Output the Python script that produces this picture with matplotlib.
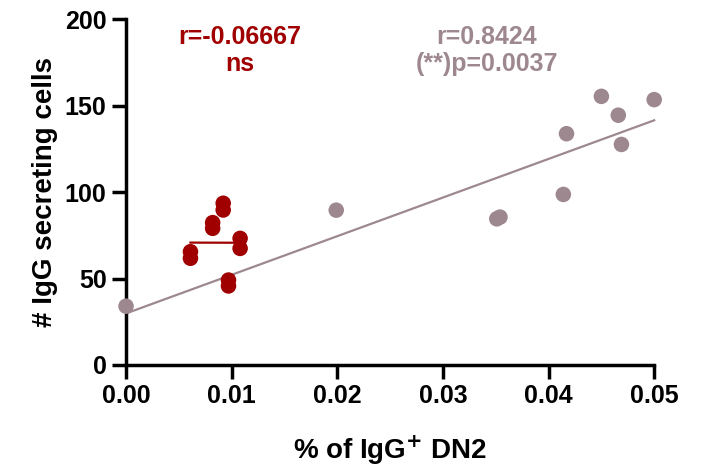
import numpy as np
import matplotlib
matplotlib.use("Agg")
import matplotlib.pyplot as plt

# Data
red_x = [0.0061, 0.0061, 0.0082, 0.0082, 0.0092, 0.0092, 0.0108, 0.0108, 0.0097, 0.0097]
red_y = [65.5, 61.7, 82.3, 79.0, 93.5, 89.6, 73.2, 67.4, 49.1, 45.7]
grey_x = [0.0, 0.0199, 0.0351, 0.0354, 0.0414, 0.0417, 0.0450, 0.0466, 0.0469, 0.0500]
grey_y = [34, 89.5, 84.5, 85.5, 98.6, 133.7, 155.3, 144.4, 127.5, 153.4]
xticks = [0.00, 0.01, 0.02, 0.03, 0.04, 0.05]
yticks = [0, 50, 100, 150, 200]
red_label = ["r=-0.06667", "ns"]
grey_label = ["r=0.8424", "(**)p=0.0037"]

RED = "#A00000"
GREY = "#9E8890"

plt.rcParams['font.family'] = ['Liberation Sans', 'DejaVu Sans']
plt.rcParams['font.weight'] = 'bold'

fig = plt.figure(figsize=(7.08, 4.72), dpi=100)
ax = fig.add_axes([0.178, 0.2267, 0.746, 0.733])

# regression lines
gx = np.array(grey_x); gy = np.array(grey_y)
gm, gb = np.polyfit(gx, gy, 1)
lx = np.array([0.0, 0.05])
ax.plot(lx, gm * lx + gb, color=GREY, lw=1.6, zorder=2, clip_on=False)

rx = np.array(red_x); ry = np.array(red_y)
rm, rb = np.polyfit(rx, ry, 1)
rlx = np.array([rx.min(), rx.max()])
ax.plot(rlx, rm * rlx + rb, color=RED, lw=1.6, zorder=2)

ax.scatter(grey_x, grey_y, s=125, color=GREY, edgecolors='none', zorder=3, clip_on=False)
ax.scatter(red_x, red_y, s=125, color=RED, edgecolors='none', zorder=3, clip_on=False)

ax.set_xlim(0, 0.05)
ax.set_ylim(0, 200)
ax.set_xticks(xticks)
ax.set_xticklabels([f"{v:.2f}" for v in xticks])
ax.set_yticks(yticks)
ax.set_yticklabels([str(v) for v in yticks])

for s in ['top', 'right']:
    ax.spines[s].set_visible(False)
for s in ['left', 'bottom']:
    ax.spines[s].set_linewidth(2.5)
ax.tick_params(axis='both', width=2.5, length=10, labelsize=18, pad=4)
for lab in ax.get_xticklabels() + ax.get_yticklabels():
    lab.set_fontweight('bold')

ax.set_xlabel("% of IgG$^{\\mathbf{+}}$ DN2", fontsize=20, fontweight='bold', labelpad=18)
ax.set_ylabel("# IgG secreting cells", fontsize=20, fontweight='bold', labelpad=5)

fig.text(240 / 708, 1 - 37 / 472, red_label[0], color=RED, fontsize=18, fontweight='bold', ha='center', va='center')
fig.text(240 / 708, 1 - 64 / 472, red_label[1], color=RED, fontsize=18, fontweight='bold', ha='center', va='center')
fig.text(487 / 708, 1 - 37 / 472, grey_label[0], color=GREY, fontsize=18, fontweight='bold', ha='center', va='center')
fig.text(487 / 708, 1 - 64 / 472, grey_label[1], color=GREY, fontsize=18, fontweight='bold', ha='center', va='center')

fig.savefig("out.png", dpi=100)
